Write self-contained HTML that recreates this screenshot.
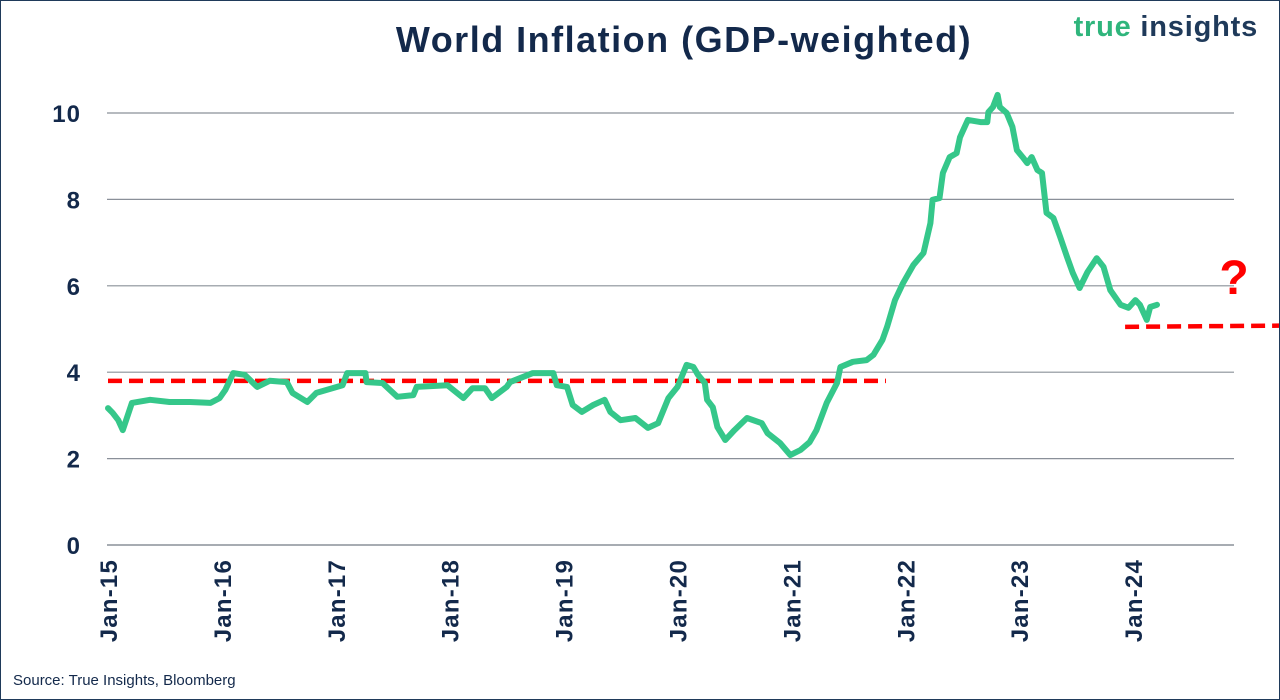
<!DOCTYPE html>
<html><head><meta charset="utf-8"><style>
body{margin:0;background:#fff;}
#wrap{position:relative;width:1278px;height:698px;border:1px solid #1f3a5a;overflow:hidden;font-family:"Liberation Sans",sans-serif;}
</style></head><body>
<div id="wrap">
<svg id="chart" width="1278" height="698"></svg>
</div>
<script>
const years=[2015.0,2015.04,2015.09,2015.13,2015.21,2015.37,2015.54,2015.72,2015.90,2015.98,2016.03,2016.10,2016.20,2016.31,2016.42,2016.57,2016.62,2016.75,2016.83,2017.06,2017.10,2017.26,2017.27,2017.41,2017.54,2017.68,2017.71,2017.98,2018.12,2018.20,2018.31,2018.37,2018.50,2018.53,2018.73,2018.91,2018.94,2019.03,2019.08,2019.16,2019.26,2019.36,2019.41,2019.50,2019.63,2019.74,2019.83,2019.92,2020.00,2020.08,2020.14,2020.18,2020.24,2020.26,2020.31,2020.35,2020.42,2020.50,2020.61,2020.74,2020.79,2020.90,2020.99,2021.08,2021.16,2021.22,2021.31,2021.40,2021.43,2021.54,2021.66,2021.72,2021.80,2021.84,2021.91,2021.98,2022.07,2022.16,2022.22,2022.24,2022.30,2022.33,2022.39,2022.45,2022.48,2022.55,2022.66,2022.72,2022.73,2022.77,2022.81,2022.83,2022.89,2022.94,2022.98,2023.03,2023.07,2023.11,2023.16,2023.20,2023.24,2023.30,2023.36,2023.42,2023.47,2023.53,2023.60,2023.68,2023.74,2023.80,2023.89,2023.96,2024.02,2024.06,2024.12,2024.15,2024.21];
const inflation=[3.17,3.06,2.89,2.66,3.29,3.36,3.31,3.31,3.29,3.40,3.59,3.98,3.94,3.66,3.80,3.77,3.52,3.31,3.52,3.70,3.98,3.98,3.77,3.75,3.43,3.47,3.66,3.70,3.40,3.63,3.63,3.40,3.66,3.77,3.98,3.98,3.70,3.66,3.24,3.08,3.24,3.36,3.08,2.89,2.94,2.71,2.82,3.40,3.66,4.17,4.12,3.94,3.75,3.36,3.19,2.73,2.43,2.66,2.94,2.82,2.59,2.36,2.08,2.20,2.38,2.66,3.29,3.75,4.12,4.24,4.28,4.40,4.75,5.05,5.67,6.06,6.48,6.76,7.45,7.99,8.03,8.61,8.98,9.07,9.44,9.84,9.79,9.79,10.02,10.14,10.42,10.14,10.00,9.68,9.14,8.98,8.84,8.98,8.68,8.61,7.69,7.57,7.13,6.67,6.30,5.95,6.32,6.64,6.44,5.90,5.56,5.49,5.67,5.56,5.21,5.51,5.56];
const yTicks=[0,2,4,6,8,10];
const xTickLabels=["Jan-15","Jan-16","Jan-17","Jan-18","Jan-19","Jan-20","Jan-21","Jan-22","Jan-23","Jan-24"];
const xTickYears=[2015,2016,2017,2018,2019,2020,2021,2022,2023,2024];
const oldAvg=[3.8];const oldAvgRange=[2015.0,2021.83];
const newAvg=[5.05,5.1];const newAvgRange=[2024.0,2026.35];

const NS="http://www.w3.org/2000/svg";
const svg=document.getElementById('chart');
const X=y=>107+(y-2015)*113.9;
const Y=v=>544-v*43.2;
function mk(t,a){const e=document.createElementNS(NS,t);for(const k in a)e.setAttribute(k,a[k]);svg.appendChild(e);return e;}

let t=mk('text',{x:683,y:51,'text-anchor':'middle','font-size':36,'font-weight':'bold',fill:'#13294b','letter-spacing':'1.5'});
t.textContent='World Inflation (GDP-weighted)';


t=mk('text',{x:1257,y:35,'text-anchor':'end','font-size':29,'font-weight':'bold',fill:'#1f3a5a','letter-spacing':'0.8'});
t.innerHTML='<tspan fill="#2fb57c">true</tspan> insights';



yTicks.forEach(v=>{
  if(v>0){const l=mk('line',{x1:106,x2:1233,y1:Y(v),y2:Y(v),stroke:'#8a9099','stroke-width':1.2});
  
  }
  const tx=mk('text',{x:80,y:Y(v)+9,'text-anchor':'end','font-size':24,'font-weight':'bold',fill:'#13294b','letter-spacing':'1'});
  tx.textContent=v;
  
  
});
let ax=mk('line',{x1:106,x2:1233,y1:Y(0),y2:Y(0),stroke:'#8a9099','stroke-width':1.5});



xTickLabels.forEach((lab,i)=>{
  const x=X(xTickYears[i]);
  const tx=mk('text',{x:0,y:0,'text-anchor':'end','font-size':24,'font-weight':'bold',fill:'#13294b','letter-spacing':'1.2',transform:`translate(${x+9},558) rotate(-90)`});
  tx.textContent=lab;
  
  
});

let r1=mk('line',{x1:X(oldAvgRange[0]),x2:X(oldAvgRange[1]),y1:Y(oldAvg[0]),y2:Y(oldAvg[0]),stroke:'#ff0000','stroke-width':4.5,'stroke-dasharray':'14 7'});


let r2=mk('line',{x1:X(newAvgRange[0])-8,x2:X(newAvgRange[1]),y1:Y(newAvg[0]),y2:Y(newAvg[1]),stroke:'#ff0000','stroke-width':4.5,'stroke-dasharray':'14 7'});



const d=years.map((y,i)=>(i?'L':'M')+X(y).toFixed(1)+','+Y(inflation[i]).toFixed(1)).join('');
let p=mk('path',{d:d,fill:'none',stroke:'#35c78a','stroke-width':6,'stroke-linejoin':'round','stroke-linecap':'round'});



t=mk('text',{x:1233,y:293,'text-anchor':'middle','font-size':48,'font-weight':'bold',fill:'#ff0000'});
t.textContent='?';


t=mk('text',{x:12,y:684,'font-size':15,fill:'#13294b'});
t.textContent='Source: True Insights, Bloomberg';


</script>
</body></html>
